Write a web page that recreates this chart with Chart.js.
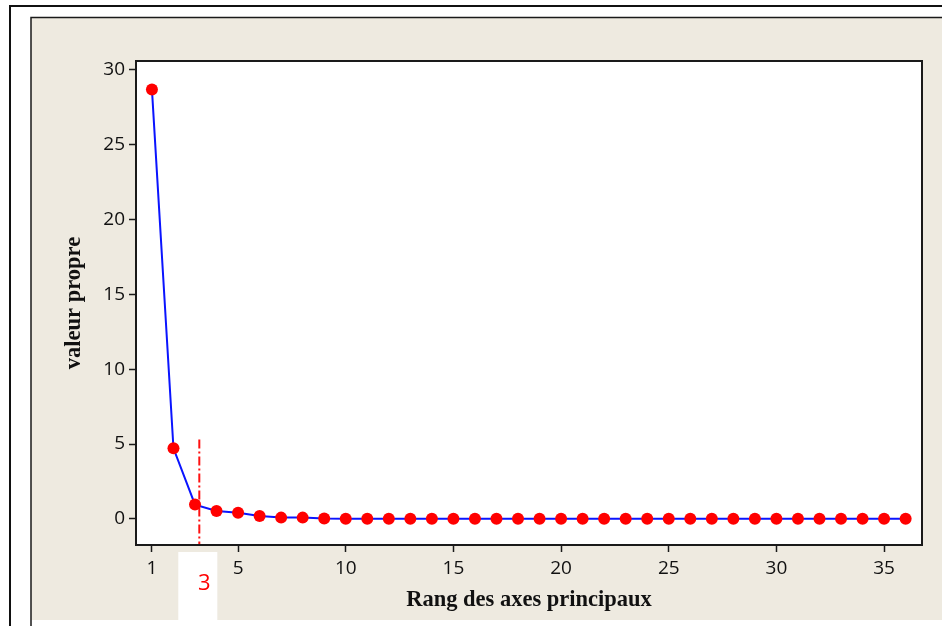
<!DOCTYPE html>
<html>
<head>
<meta charset="utf-8">
<script src="https://cdn.jsdelivr.net/npm/chart.js@4.4.1/dist/chart.umd.min.js"></script>
<style>
  html, body { margin: 0; padding: 0; background: #ffffff; }
  #wrap { width: 942px; height: 626px; position: relative; }
</style>
</head>
<body>
<div id="wrap"><canvas id="c" width="942" height="626"></canvas></div>
<script>
// Rank of each principal axis
const ranks = [1,2,3,4,5,6,7,8,9,10,11,12,13,14,15,16,17,18,19,20,21,22,23,24,25,26,27,28,29,30,31,32,33,34,35,36];
// Eigenvalue of each axis
const eigenvalues = [28.7, 4.71, 0.95, 0.52, 0.41, 0.19, 0.08, 0.08, 0.02, 0.01, 0.01, 0.01, 0.01, 0.01, 0.01, 0.01, 0.01, 0.01, 0.01, 0.01, 0.01, 0.01, 0.01, 0.01, 0.01, 0.01, 0.01, 0.01, 0.01, 0.01, 0.01, 0.01, 0.01, 0.01, 0.01, 0.01];
// Tick labels
const xTicks = [1, 5, 10, 15, 20, 25, 30, 35];
const yTicks = [0, 5, 10, 15, 20, 25, 30];
// Cut-off marker: number of axes retained
const cutRank = 3;
const cutLineX = 3.2;
const cutLineTop = 5.3;

const points = ranks.map((r, i) => ({ x: r, y: eigenvalues[i] }));

const frame = {
  id: 'frame',
  beforeDraw(chart) {
    const ctx = chart.ctx;
    const a = chart.chartArea;
    ctx.save();
    ctx.fillStyle = '#ffffff';
    ctx.fillRect(0, 0, chart.width, chart.height);
    // outer frame
    ctx.strokeStyle = '#111111';
    ctx.lineWidth = 2;
    ctx.strokeRect(10, 6, 960, 640);
    // beige panel
    ctx.fillStyle = '#eeeae0';
    ctx.fillRect(31, 17, 940, 603);
    ctx.strokeStyle = '#1a1a1a';
    ctx.lineWidth = 1.5;
    ctx.beginPath();
    ctx.moveTo(31, 640); ctx.lineTo(31, 17.5); ctx.lineTo(960, 17.5);
    ctx.stroke();
    // plot area
    ctx.fillStyle = '#ffffff';
    ctx.fillRect(a.left, a.top, a.right - a.left, a.bottom - a.top);
    ctx.restore();
  },
  afterDraw(chart) {
    const ctx = chart.ctx;
    const a = chart.chartArea;
    const xs = chart.scales.x;
    ctx.save();
    ctx.strokeStyle = '#1a1a1a';
    ctx.lineWidth = 2;
    ctx.strokeRect(a.left, a.top, a.right - a.left, a.bottom - a.top);
    // label for the retained axes
    const cx = xs.getPixelForValue(cutLineX);
    ctx.fillStyle = '#ffffff';
    ctx.fillRect(cx - 21, a.bottom + 7, 39, 620 - a.bottom - 7);
    ctx.fillStyle = '#ff0000';
    ctx.font = '22px "Open Sans"';
    ctx.textAlign = 'center';
    ctx.textBaseline = 'middle';
    ctx.fillText(String(cutRank), cx + 5, a.bottom + 39);
    ctx.restore();
  }
};

new Chart(document.getElementById('c'), {
  type: 'line',
  data: {
    datasets: [
      {
        data: points,
        borderColor: '#0a14ff',
        borderWidth: 2,
        pointRadius: 6,
        pointBackgroundColor: '#ff0000',
        pointBorderColor: '#ff0000',
        pointBorderWidth: 0,
        tension: 0,
        order: 1
      },
      {
        data: [{ x: cutLineX, y: cutLineTop }, { x: cutLineX, y: -1.75 }],
        borderColor: '#ff1010',
        borderWidth: 2,
        borderDash: [9, 3, 2, 3],
        pointRadius: 0,
        order: 2
      }
    ]
  },
  plugins: [frame],
  options: {
    responsive: false,
    animation: false,
    events: [],
    layout: { padding: { left: 0, right: 20, top: 61, bottom: 0 } },
    plugins: { legend: { display: false }, tooltip: { enabled: false } },
    scales: {
      x: {
        type: 'linear',
        min: 0.26,
        max: 36.76,
        afterBuildTicks(s) { s.ticks = xTicks.map(v => ({ value: v })); },
        afterFit(s) { s.height = 81; },
        grid: { drawOnChartArea: false, drawTicks: true, tickLength: 7, color: '#1a1a1a', tickWidth: 1.5 },
        border: { display: true, color: '#1a1a1a', width: 2 },
        ticks: { color: '#111111', font: { family: 'Open Sans', size: 19 }, padding: 5, maxRotation: 0, autoSkip: false },
        title: {
          display: true,
          text: 'Rang des axes principaux',
          color: '#111111',
          font: { family: 'Liberation Serif', size: 22.5, weight: 'bold' },
          padding: { top: 0, bottom: 12 }
        }
      },
      y: {
        type: 'linear',
        min: -1.75,
        max: 30.6,
        afterBuildTicks(s) { s.ticks = yTicks.map(v => ({ value: v })); },
        afterFit(s) { s.width = 136; },
        grid: { drawOnChartArea: false, drawTicks: true, tickLength: 7, color: '#1a1a1a', tickWidth: 1.5 },
        border: { display: true, color: '#1a1a1a', width: 2 },
        ticks: { color: '#111111', font: { family: 'Open Sans', size: 19 }, padding: 4 },
        title: {
          display: true,
          text: 'valeur propre',
          color: '#111111',
          font: { family: 'Liberation Serif', size: 22.5, weight: 'bold' },
          padding: { top: 61, bottom: 0 }
        }
      }
    }
  }
});
</script>
</body>
</html>
